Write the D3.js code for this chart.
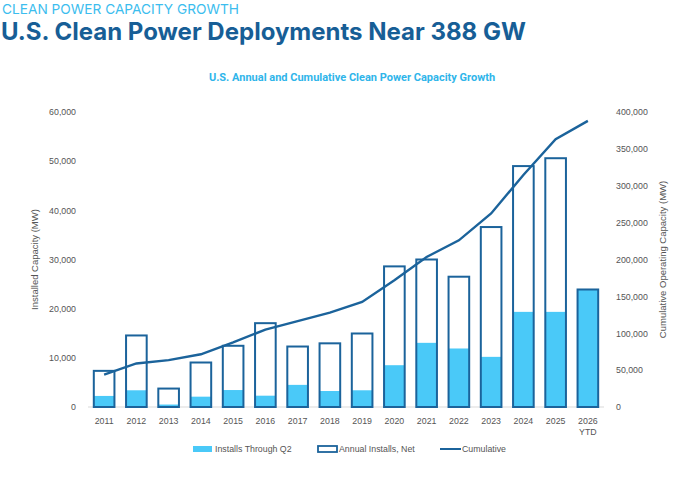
<!DOCTYPE html>
<html>
<head>
<meta charset="utf-8">
<script src="https://cdn.jsdelivr.net/npm/d3@7"></script>
<style>
  body { margin: 0; background: #fff; }
  svg text { font-family: "Liberation Sans", Arial, sans-serif; }
</style>
</head>
<body>
<div class="chart"></div>
<script>
// values (MW)
const years = ["2011", "2012", "2013", "2014", "2015", "2016", "2017", "2018",
  "2019", "2020", "2021", "2022", "2023", "2024", "2025", "2026"];
const annualNet = [7350, 14550, 3750, 9050, 12450, 17050, 12300, 12950,
  14950, 28600, 30000, 26500, 36600, 49000, 50600, 23900];
const throughQ2 = [2250, 3400, 500, 2100, 3450, 2300, 4500, 3250,
  3400, 8500, 13050, 11900, 10200, 19350, 19350, 23900];
const cumulative = [44000, 59000, 63500, 71500, 87500, 105000, 116500, 128000,
  142500, 172000, 203500, 226000, 262500, 314500, 363000, 388000];
const leftTicks = [0, 10000, 20000, 30000, 40000, 50000, 60000];
const rightTicks = [0, 50000, 100000, 150000, 200000, 250000, 300000, 350000, 400000];

const W = 700, H = 500;
const margin = { top: 112, right: 96, bottom: 93, left: 88 };
const lightBlue = "#4ac9f8";
const darkBlue = "#1b639b";
const tickGray = "#555";

const svg = d3.select(".chart").append("svg")
  .attr("width", W)
  .attr("height", H);

// headings
svg.append("text")
  .attr("x", 2).attr("y", 14)
  .style("font-family", "Inter, sans-serif")
  .style("font-size", "13.7px")
  .attr("fill", "#3cbdee")
  .text("CLEAN POWER CAPACITY GROWTH");

svg.append("text")
  .attr("x", 1).attr("y", 40)
  .style("font-family", "Inter, sans-serif")
  .style("font-weight", "bold")
  .style("font-size", "24px")
  .attr("fill", "#175e96")
  .text("U.S. Clean Power Deployments Near 388 GW");

svg.append("text")
  .attr("x", 352).attr("y", 81)
  .attr("text-anchor", "middle")
  .style("font-family", "Roboto, sans-serif")
  .style("font-weight", "bold")
  .style("font-size", "11px")
  .attr("fill", "#2fb5ea")
  .text("U.S. Annual and Cumulative Clean Power Capacity Growth");

const x = d3.scaleBand()
  .domain(years)
  .range([margin.left, W - margin.right])
  .paddingInner(0.36)
  .paddingOuter(0.18);

const y = d3.scaleLinear()
  .domain([0, 60000])
  .range([H - margin.bottom, margin.top]);

const y2 = d3.scaleLinear()
  .domain([0, 400000])
  .range([H - margin.bottom, margin.top]);

// baseline
svg.append("line")
  .attr("x1", margin.left).attr("x2", W - margin.right)
  .attr("y1", y(0)).attr("y2", y(0))
  .attr("stroke", "#d9d9d9")
  .attr("stroke-width", 1);

// axes (labels only)
const fmt = d3.format(",");
const leftAxis = svg.append("g")
  .attr("transform", `translate(${margin.left - 9},0)`)
  .call(d3.axisLeft(y).tickValues(leftTicks).tickFormat(fmt).tickSize(0));
const rightAxis = svg.append("g")
  .attr("transform", `translate(${W - margin.right + 9},0)`)
  .call(d3.axisRight(y2).tickValues(rightTicks).tickFormat(fmt).tickSize(0));
[leftAxis, rightAxis].forEach(g => {
  g.select(".domain").remove();
  g.selectAll("text")
    .style("font-size", "8.8px")
    .attr("fill", tickGray);
});

const xAxis = svg.append("g")
  .attr("transform", `translate(0,${y(0) + 8})`)
  .call(d3.axisBottom(x).tickSize(0));
xAxis.select(".domain").remove();
xAxis.selectAll("text")
  .style("font-size", "8.8px")
  .attr("fill", tickGray);
xAxis.selectAll(".tick")
  .filter(d => d === "2026")
  .select("text")
  .append("tspan")
  .attr("x", 0)
  .attr("dy", "1.2em")
  .text("YTD");

// axis titles
svg.append("text")
  .attr("transform", `translate(38,${(y(0) + y(60000)) / 2}) rotate(-90)`)
  .attr("text-anchor", "middle")
  .style("font-size", "9.5px")
  .attr("fill", tickGray)
  .text("Installed Capacity (MW)");

svg.append("text")
  .attr("transform", `translate(666,${(y(0) + y(60000)) / 2}) rotate(-90)`)
  .attr("text-anchor", "middle")
  .style("font-size", "9.5px")
  .attr("fill", tickGray)
  .text("Cumulative Operating Capacity (MW)");

// installs through Q2 (filled)
svg.append("g")
  .selectAll("rect")
  .data(years)
  .enter().append("rect")
  .attr("x", d => x(d))
  .attr("width", x.bandwidth())
  .attr("y", (d, i) => y(throughQ2[i]))
  .attr("height", (d, i) => y(0) - y(throughQ2[i]))
  .attr("fill", lightBlue);

// annual installs, net (outlined)
svg.append("g")
  .selectAll("rect")
  .data(years)
  .enter().append("rect")
  .attr("x", d => x(d))
  .attr("width", x.bandwidth())
  .attr("y", (d, i) => y(annualNet[i]))
  .attr("height", (d, i) => y(0) - y(annualNet[i]))
  .attr("fill", "none")
  .attr("stroke", darkBlue)
  .attr("stroke-width", 2);

// cumulative line
const line = d3.line()
  .x((d, i) => x(years[i]) + x.bandwidth() / 2)
  .y(d => y2(d));

svg.append("path")
  .datum(cumulative)
  .attr("d", line)
  .attr("fill", "none")
  .attr("stroke", darkBlue)
  .attr("stroke-width", 2.4);

// legend
const legY = 449;
const legend = svg.append("g").style("font-size", "8.8px");

legend.append("rect")
  .attr("x", 193).attr("y", legY - 3)
  .attr("width", 19).attr("height", 6)
  .attr("fill", lightBlue);
legend.append("text")
  .attr("x", 215).attr("y", legY + 3)
  .attr("fill", tickGray)
  .text("Installs Through Q2");

legend.append("rect")
  .attr("x", 318).attr("y", legY - 3)
  .attr("width", 19).attr("height", 6)
  .attr("fill", "none")
  .attr("stroke", darkBlue)
  .attr("stroke-width", 1.8);
legend.append("text")
  .attr("x", 339).attr("y", legY + 3)
  .attr("fill", tickGray)
  .text("Annual Installs, Net");

legend.append("line")
  .attr("x1", 440).attr("x2", 461)
  .attr("y1", legY).attr("y2", legY)
  .attr("stroke", darkBlue)
  .attr("stroke-width", 2);
legend.append("text")
  .attr("x", 462).attr("y", legY + 3)
  .attr("fill", tickGray)
  .text("Cumulative");
</script>
</body>
</html>
